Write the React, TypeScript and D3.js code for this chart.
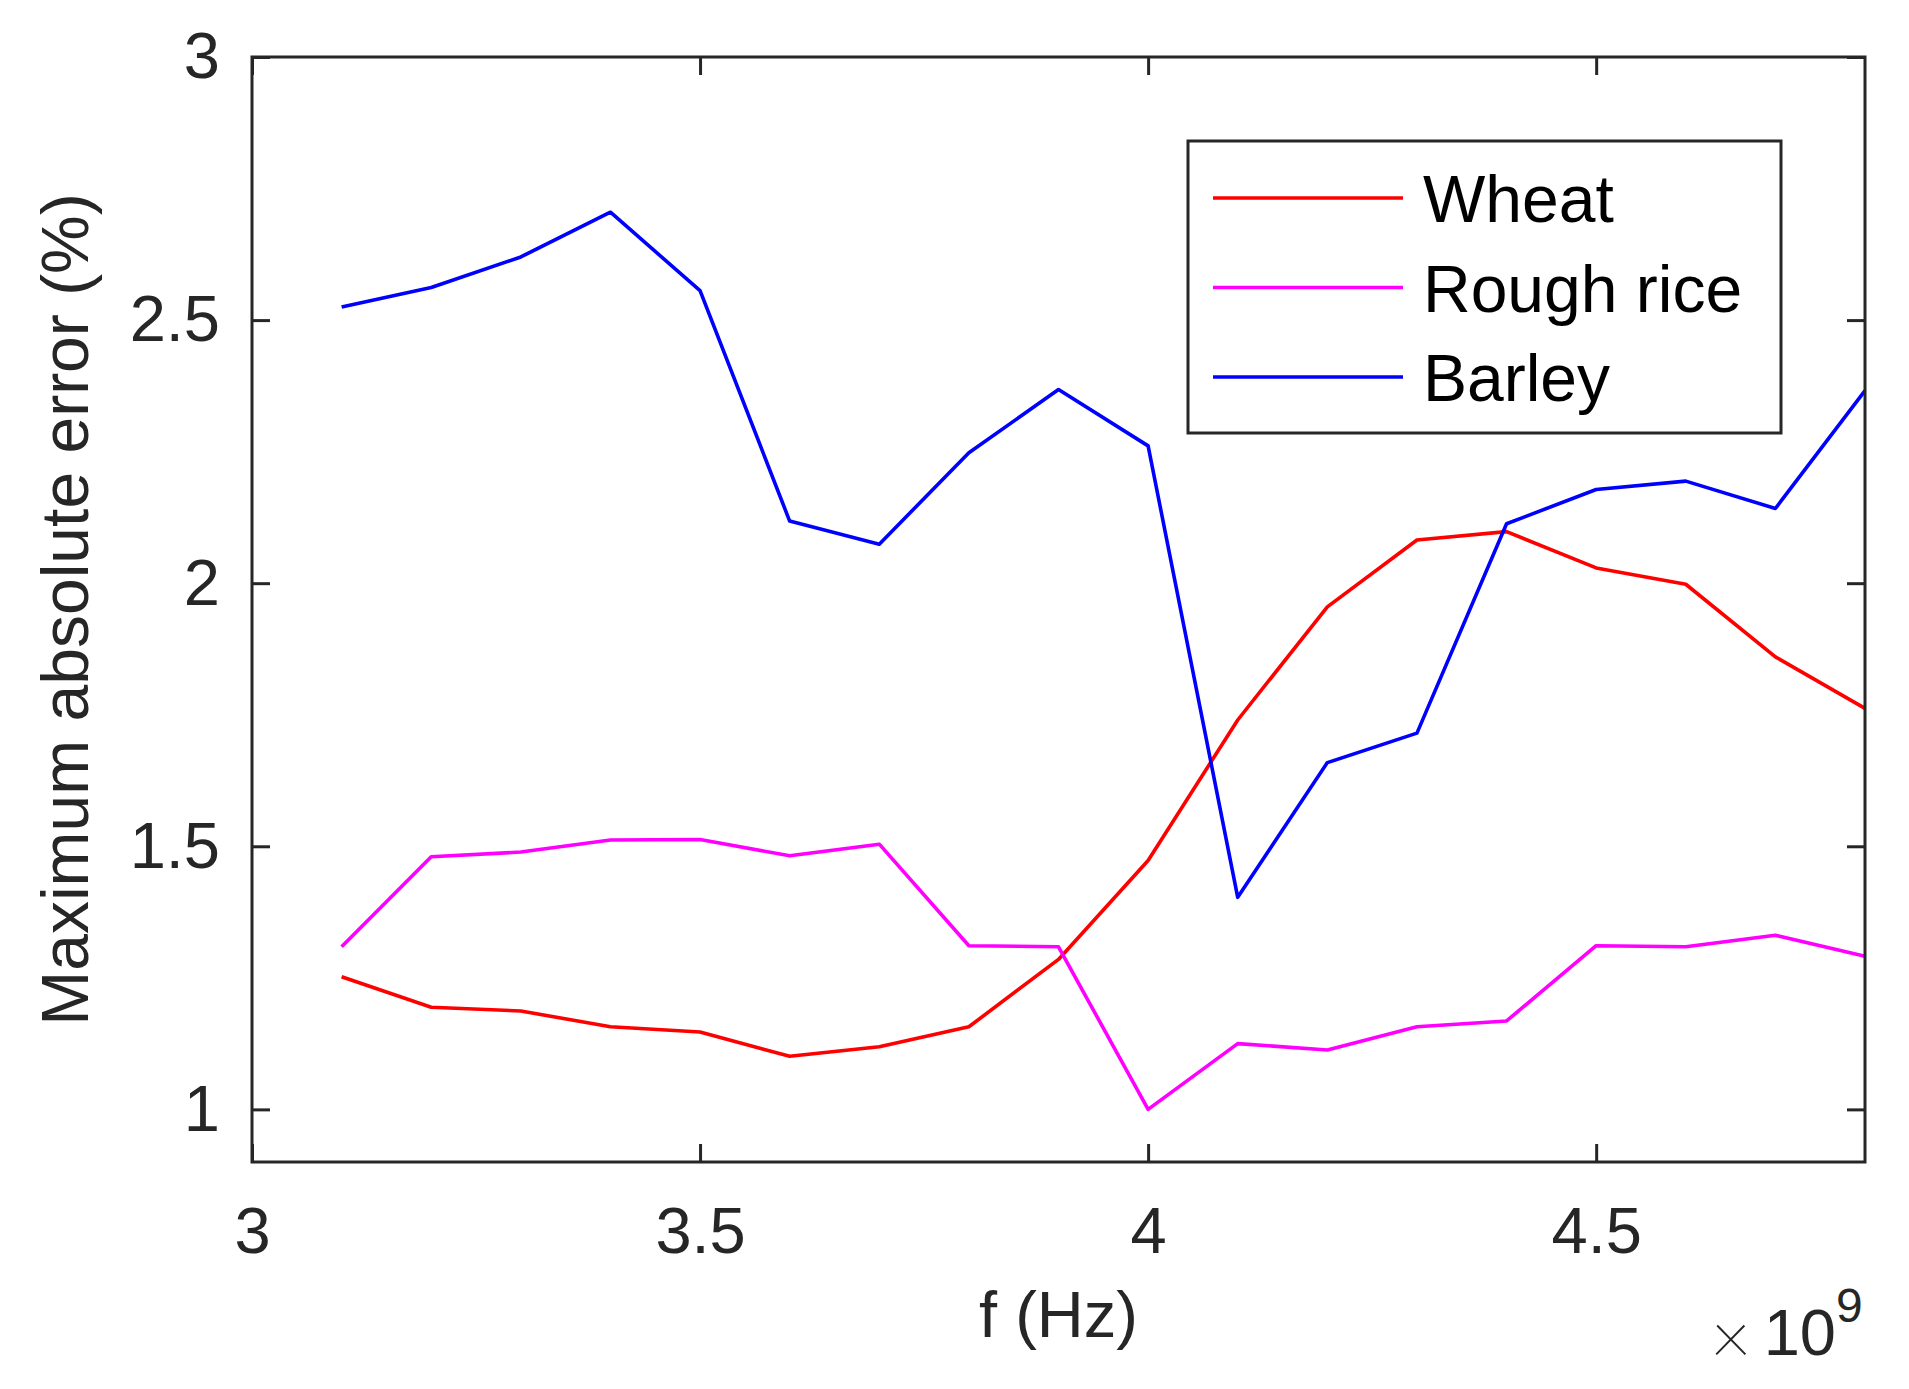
import * as React from "react";
import { useEffect, useRef } from "react";
import * as d3 from "d3";

// frequency in units of 1e9 Hz
const freqs = [3.1, 3.2, 3.3, 3.4, 3.5, 3.6, 3.7, 3.8, 3.9, 4.0, 4.1, 4.2, 4.3, 4.4, 4.5, 4.6, 4.7, 4.8];

const wheat = [1.252, 1.194, 1.187, 1.157, 1.147, 1.101, 1.119, 1.157, 1.285, 1.473, 1.740, 1.955, 2.082, 2.098, 2.029, 1.998, 1.860, 1.762];
const roughRice = [1.309, 1.480, 1.489, 1.512, 1.513, 1.482, 1.504, 1.311, 1.309, 1.0, 1.125, 1.113, 1.157, 1.168, 1.311, 1.309, 1.331, 1.291];
const barley = [2.525, 2.562, 2.620, 2.705, 2.556, 2.118, 2.074, 2.248, 2.368, 2.261, 1.403, 1.659, 1.715, 2.113, 2.178, 2.194, 2.142, 2.366];

const seriesNames = ["Wheat", "Rough rice", "Barley"];
const seriesColors = ["#ff0000", "#ff00ff", "#0000ff"];

const xTicks = [3, 3.5, 4, 4.5];
const yTicks = [1, 1.5, 2, 2.5, 3];

const xLabel = "f (Hz)";
const yLabel = "Maximum absolute error (%)";

const WIDTH = 1909;
const HEIGHT = 1389;
const FONT = "'Liberation Sans', Arial, Helvetica, sans-serif";
const AXIS_COLOR = "#262626";

const App: React.FC = () => {
  const svgRef = useRef<SVGSVGElement | null>(null);

  useEffect(() => {
    const svg = d3.select(svgRef.current);
    svg.selectAll("*").remove();

    const left = 252;
    const right = 1865;
    const top = 57;
    const bottom = 1162;

    const x = d3.scaleLinear().domain([3, 4.8]).range([left, right]);
    const y = d3.scaleLinear().domain([0.9, 3]).range([bottom, top]);

    svg.append("rect").attr("width", WIDTH).attr("height", HEIGHT).attr("fill", "#ffffff");

    // data lines
    const allSeries = [wheat, roughRice, barley];
    const line = d3
      .line<number>()
      .x((_, i) => x(freqs[i]))
      .y((d) => y(d));

    allSeries.forEach((vals, i) => {
      svg
        .append("path")
        .datum(vals)
        .attr("fill", "none")
        .attr("stroke", seriesColors[i])
        .attr("stroke-width", 3.6)
        .attr("stroke-linejoin", "round")
        .attr("d", line);
    });

    const styleAxis = (g: d3.Selection<SVGGElement, unknown, null, undefined>) => {
      g.select(".domain").remove();
      g.selectAll(".tick line").attr("stroke", AXIS_COLOR).attr("stroke-width", 3);
      g.selectAll(".tick text")
        .attr("fill", AXIS_COLOR)
        .attr("font-family", FONT)
        .attr("font-size", 65);
    };

    const fmt = (d: d3.NumberValue) => String(+d);

    svg
      .append("g")
      .attr("transform", `translate(0, ${bottom})`)
      .call(d3.axisBottom(x).tickValues(xTicks).tickSize(-18).tickPadding(45).tickFormat(fmt))
      .call(styleAxis);

    svg
      .append("g")
      .attr("transform", `translate(0, ${top})`)
      .call(d3.axisTop(x).tickValues(xTicks).tickSize(-18).tickFormat(() => ""))
      .call(styleAxis);

    svg
      .append("g")
      .attr("transform", `translate(${left}, 0)`)
      .call(d3.axisLeft(y).tickValues(yTicks).tickSize(-18).tickPadding(32).tickFormat(fmt))
      .call(styleAxis);

    svg
      .append("g")
      .attr("transform", `translate(${right}, 0)`)
      .call(d3.axisRight(y).tickValues(yTicks).tickSize(-18).tickFormat(() => ""))
      .call(styleAxis);

    // frame
    svg
      .append("rect")
      .attr("x", left)
      .attr("y", top)
      .attr("width", right - left)
      .attr("height", bottom - top)
      .attr("fill", "none")
      .attr("stroke", AXIS_COLOR)
      .attr("stroke-width", 3);

    // axis labels
    svg
      .append("text")
      .attr("x", (left + right) / 2)
      .attr("y", 1337)
      .attr("text-anchor", "middle")
      .attr("font-family", FONT)
      .attr("font-size", 65)
      .attr("fill", AXIS_COLOR)
      .text(xLabel);

    svg
      .append("text")
      .attr("transform", `translate(88, ${(top + bottom) / 2}) rotate(-90)`)
      .attr("text-anchor", "middle")
      .attr("font-family", FONT)
      .attr("font-size", 66)
      .attr("fill", AXIS_COLOR)
      .text(yLabel);

    // exponent
    svg
      .append("text")
      .attr("x", 1712)
      .attr("y", 1355)
      .attr("font-family", "Roboto, 'Liberation Sans', sans-serif")
      .attr("font-size", 74)
      .attr("font-weight", 100)
      .attr("fill", AXIS_COLOR)
      .text("×");
    svg
      .append("text")
      .attr("x", 1836)
      .attr("y", 1355)
      .attr("text-anchor", "end")
      .attr("font-family", FONT)
      .attr("font-size", 65)
      .attr("fill", AXIS_COLOR)
      .text("10");
    svg
      .append("text")
      .attr("x", 1836)
      .attr("y", 1322)
      .attr("font-family", FONT)
      .attr("font-size", 48)
      .attr("fill", AXIS_COLOR)
      .text("9");

    // legend
    const lg = svg.append("g");
    lg.append("rect")
      .attr("x", 1188)
      .attr("y", 141)
      .attr("width", 593)
      .attr("height", 292)
      .attr("fill", "#ffffff")
      .attr("stroke", AXIS_COLOR)
      .attr("stroke-width", 3);

    seriesNames.forEach((name, i) => {
      const ly = 198 + i * 89.5;
      lg.append("line")
        .attr("x1", 1213)
        .attr("x2", 1403)
        .attr("y1", ly)
        .attr("y2", ly)
        .attr("stroke", seriesColors[i])
        .attr("stroke-width", 3.6);
      lg.append("text")
        .attr("x", 1423)
        .attr("y", ly + 24)
        .attr("font-family", FONT)
        .attr("font-size", 66)
        .attr("fill", "#000000")
        .text(name);
    });
  }, []);

  return (
    <svg
      ref={svgRef}
      width={WIDTH}
      height={HEIGHT}
      style={{ position: "absolute", left: 0, top: 0 }}
    ></svg>
  );
};

export default App;
